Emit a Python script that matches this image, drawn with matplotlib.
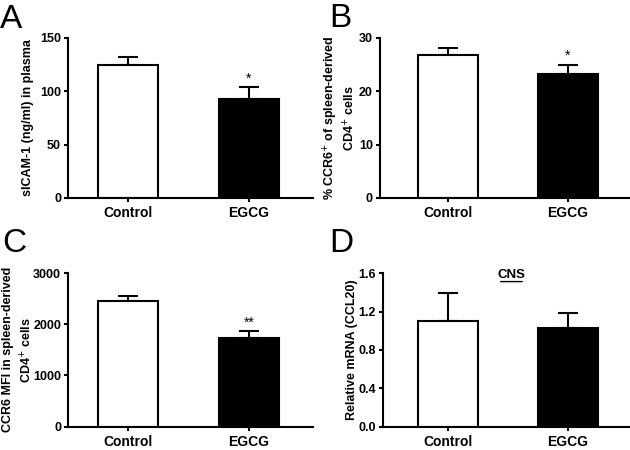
import numpy as np
import matplotlib.pyplot as plt

plt.rcParams['font.family'] = ['Liberation Sans', 'DejaVu Sans']

groups = ['Control', 'EGCG']

# panel A: sICAM-1
a_mean = [125, 93]
a_err = [7, 11]
# panel B: % CCR6+
b_mean = [26.8, 23.2]
b_err = [1.2, 1.8]
# panel C: CCR6 MFI
c_mean = [2450, 1730]
c_err = [100, 140]
# panel D: CCL20 mRNA
d_mean = [1.10, 1.03]
d_err = [0.29, 0.15]

fig = plt.figure(figsize=(6.3, 4.5), dpi=100)

# rect, xlim, means, errs, ylim, yticks, ylabel, stars, letter, letter pos, title,
# tick labels, line spacing, ylabel x position
panels = [
    ([0.108, 0.56, 0.389, 0.356], (-0.496, 1.53), a_mean, a_err, (0, 150), [0, 50, 100, 150],
     'sICAM-1 (ng/ml) in plasma', ['', '*'], 'A', (0.0, 0.938), None,
     ['0', '50', '100', '150'], 1.2, -0.14),
    ([0.603, 0.56, 0.397, 0.356], (-0.57, 1.52), b_mean, b_err, (0, 30), [0, 10, 20, 30],
     '% CCR6$^{+}$ of spleen-derived\nCD4$^{+}$ cells', ['', '*'], 'B', (0.522, 0.94), None,
     ['0', '10', '20', '30'], 1.25, -0.088),
    ([0.108, 0.052, 0.389, 0.341], (-0.496, 1.53), c_mean, c_err, (0, 3000), [0, 1000, 2000, 3000],
     'CCR6 MFI in spleen-derived\nCD4$^{+}$ cells', ['', '**'], 'C', (0.004, 0.44), None,
     ['0', '1000', '2000', '3000'], 1.5, -0.135),
    ([0.608, 0.052, 0.392, 0.341], (-0.54, 1.52), d_mean, d_err, (0, 1.6), [0, 0.4, 0.8, 1.2, 1.6],
     'Relative mRNA (CCL20)', ['', ''], 'D', (0.522, 0.44), 'CNS',
     ['0.0', '0.4', '0.8', '1.2', '1.6'], 1.2, -0.1),
]

for rect, xl, mean, err, yl, yt, lab, stars, letter, lpos, ttl, ytl, ls, lx in panels:
    ax = fig.add_axes(rect)
    x = np.arange(len(groups))
    ax.bar(x, mean, width=0.5, color=['white', 'black'], edgecolor='black',
           linewidth=1.5, zorder=2)
    ax.errorbar(x, mean, yerr=[[0, 0], err], fmt='none', ecolor='black',
                elinewidth=1.5, capsize=7, capthick=1.5, zorder=1)
    for i in range(len(groups)):
        if stars[i]:
            ax.text(x[i], mean[i] + err[i] + yl[1] * 0.01, stars[i], ha='center',
                    va='bottom', fontsize=10)
    ax.set_xlim(xl)
    ax.set_ylim(yl)
    ax.set_yticks(yt)
    ax.set_yticklabels(ytl, fontsize=9, fontweight='bold')
    ax.set_xticks(x)
    ax.set_xticklabels(groups, fontsize=10, fontweight='bold')
    ax.set_ylabel(lab, fontsize=9, fontweight='bold', linespacing=ls)
    ax.yaxis.set_label_coords(lx, 0.5)
    for s in ['top', 'right']:
        ax.spines[s].set_visible(False)
    for s in ['left', 'bottom']:
        ax.spines[s].set_linewidth(1.5)
    ax.tick_params(width=1.5, length=3, pad=2)
    ax.tick_params(axis='x', pad=3)
    if ttl:
        ax.text(0.52, 0.985, ttl, transform=ax.transAxes, ha='center', va='center',
                fontsize=9.5, fontweight='bold')
        ax.annotate('', xy=(0.575, 0.945), xytext=(0.465, 0.945), xycoords='axes fraction',
                    arrowprops=dict(arrowstyle='-', lw=1.0))
    fig.text(lpos[0], lpos[1], letter, fontsize=24, va='baseline', ha='left')

plt.savefig('out.png', dpi=100)
